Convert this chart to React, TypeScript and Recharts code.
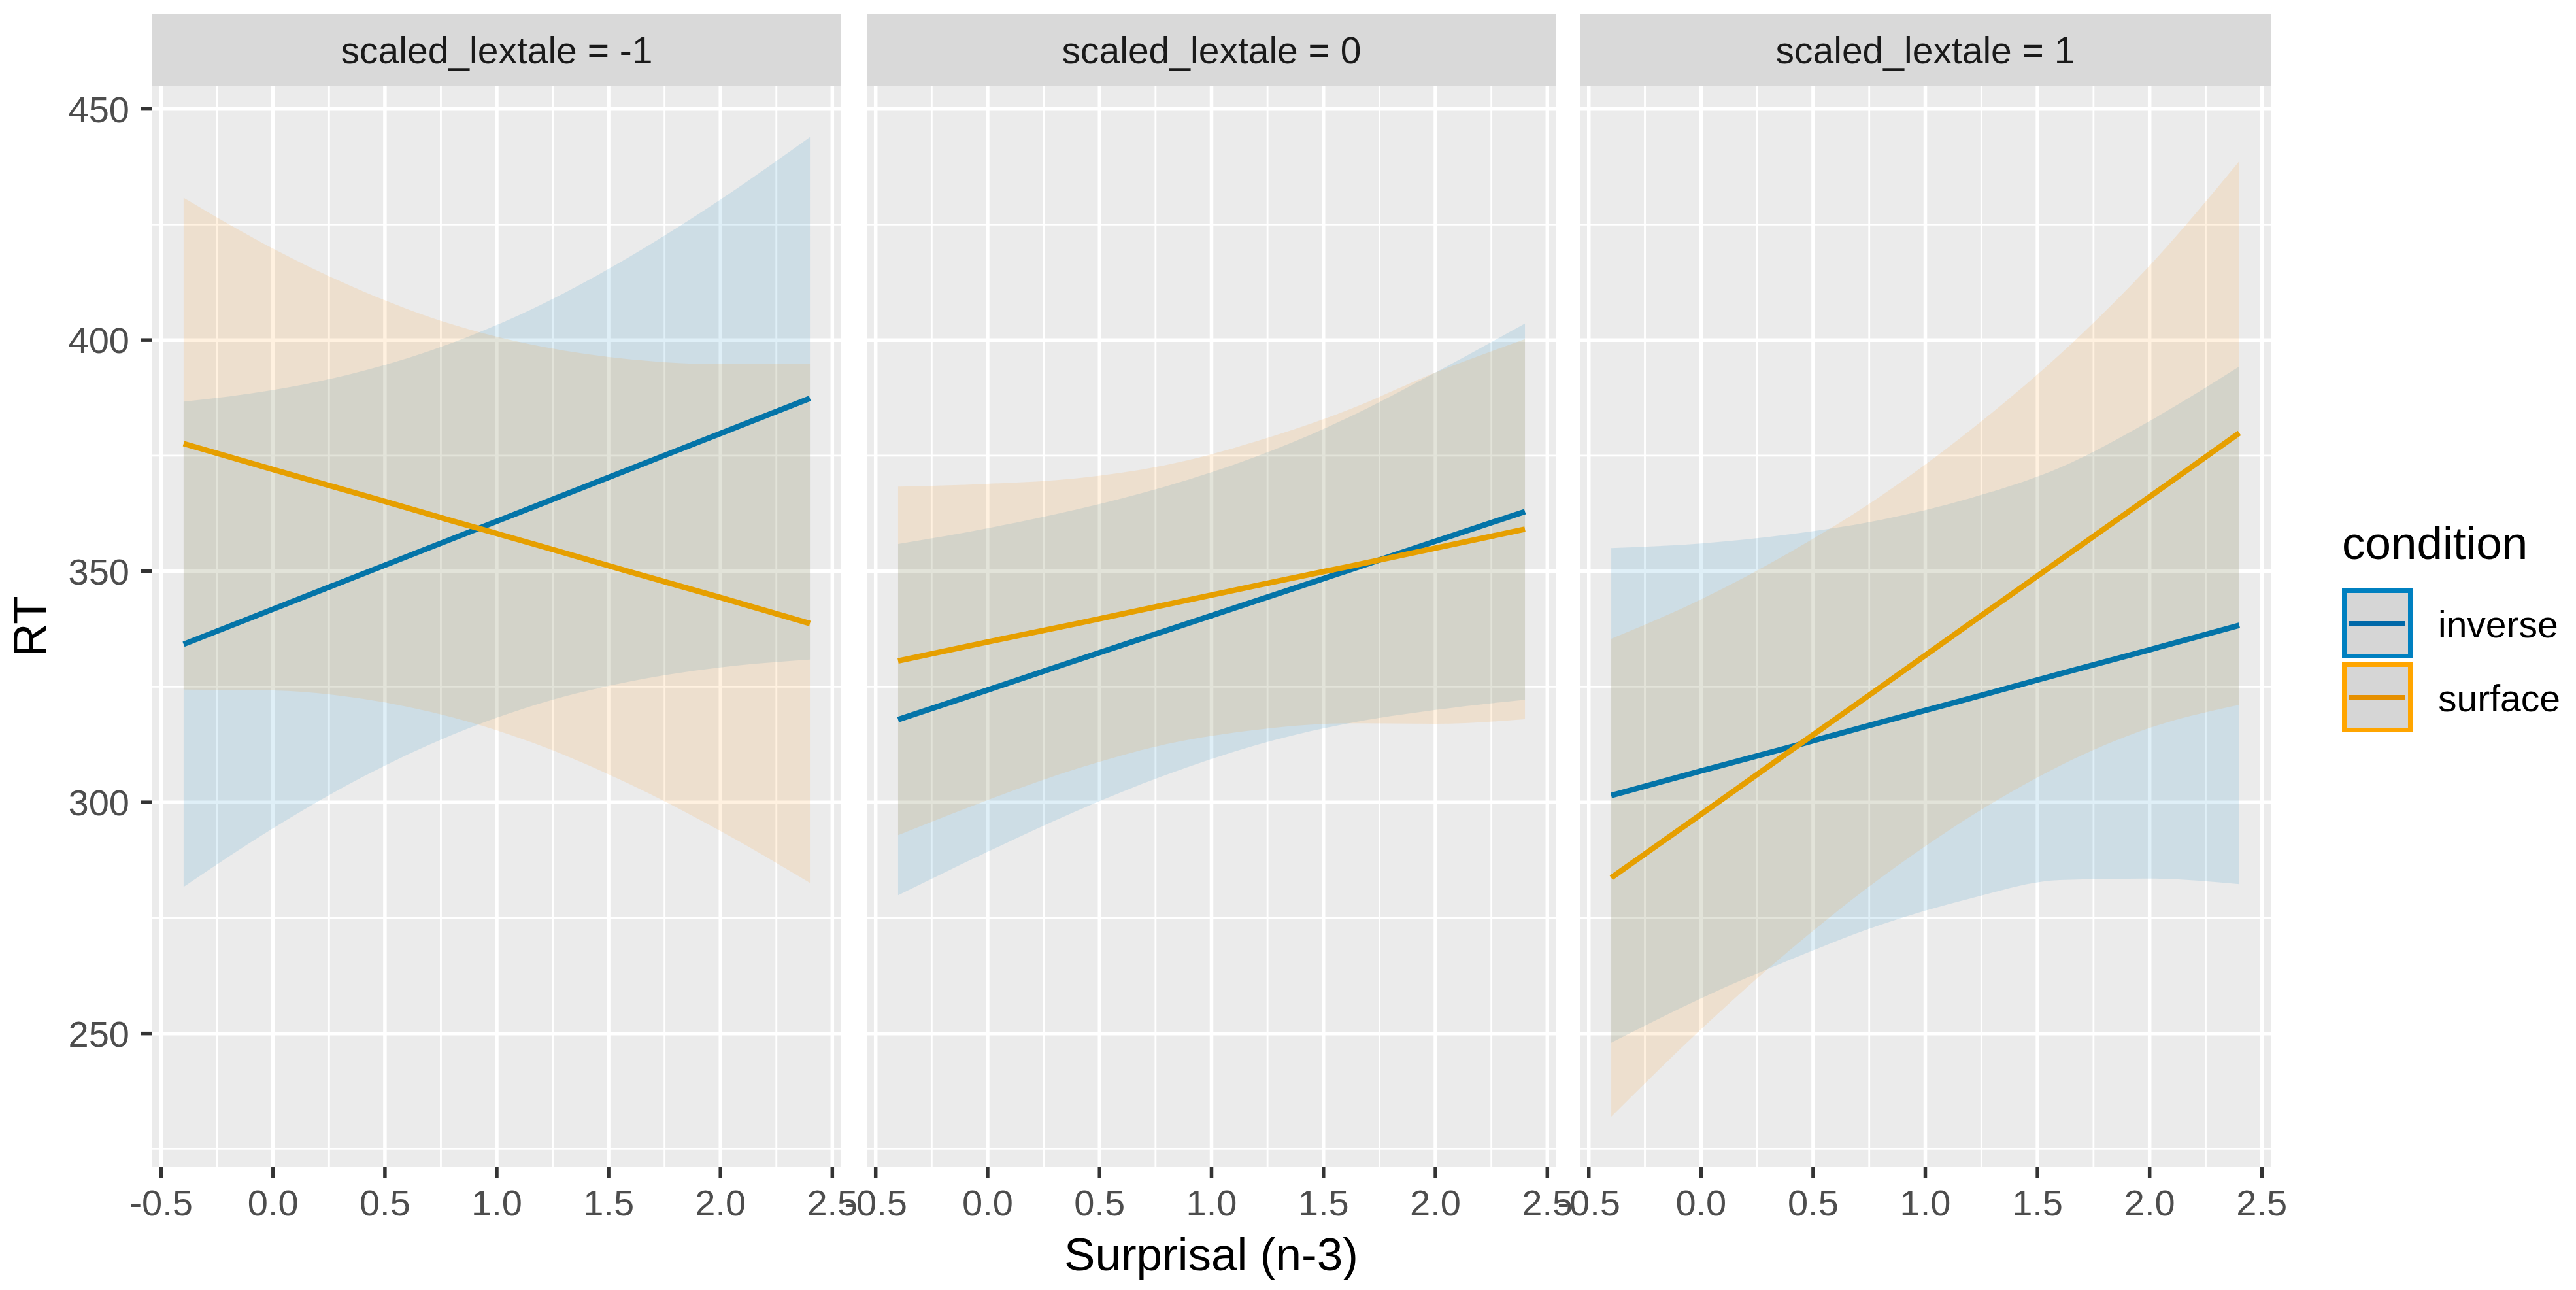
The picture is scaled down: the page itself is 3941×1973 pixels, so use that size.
import React from 'react';
import { ComposedChart, Area, Line, XAxis, YAxis, CartesianGrid } from 'recharts';

// ---------- data ----------
const X_VALUES = [-0.4, 0, 0.4, 0.8, 1.2, 1.6, 2.0, 2.4];
const X_TICKS = [-0.5, 0, 0.5, 1, 1.5, 2, 2.5];
const X_MINOR = [-0.25, 0.25, 0.75, 1.25, 1.75, 2.25];
const Y_TICKS = [250, 300, 350, 400, 450];
const Y_MINOR = [225, 275, 325, 375, 425];
const PANEL_LABELS = ['scaled_lextale = -1', 'scaled_lextale = 0', 'scaled_lextale = 1'];
const CONDITIONS = ['inverse', 'surface'];
const X_TITLE = 'Surprisal (n-3)';
const Y_TITLE = 'RT';
const LEGEND_TITLE = 'condition';

// panel 1: scaled_lextale = -1
const P1_INVERSE_FIT = [334.2, 341.8, 349.4, 357.0, 364.6, 372.2, 379.8, 387.4];
const P1_INVERSE_LOW = [281.7, 294.4, 305.5, 314.6, 321.5, 326.2, 329.2, 330.9];
const P1_INVERSE_HIGH = [386.7, 389.2, 393.3, 399.4, 407.7, 418.2, 430.4, 443.9];
const P1_SURFACE_FIT = [377.6, 372.0, 366.5, 360.9, 355.4, 349.8, 344.3, 338.7];
const P1_SURFACE_LOW = [324.4, 324.2, 322.4, 318.4, 312.2, 303.8, 293.8, 282.6];
const P1_SURFACE_HIGH = [430.8, 419.8, 410.6, 403.4, 398.6, 395.8, 394.8, 394.8];

// panel 2: scaled_lextale = 0
const P2_INVERSE_FIT = [317.9, 324.3, 330.8, 337.2, 343.6, 350.0, 356.5, 362.9];
const P2_INVERSE_LOW = [279.9, 289.3, 298.2, 306.0, 312.4, 317.0, 320.0, 322.2];
const P2_INVERSE_HIGH = [355.9, 359.3, 363.4, 368.4, 374.8, 383.0, 393.0, 403.6];
const P2_SURFACE_FIT = [330.6, 334.7, 338.7, 342.8, 346.9, 350.9, 355.0, 359.1];
const P2_SURFACE_LOW = [292.9, 300.5, 307.3, 312.6, 315.7, 317.1, 317.0, 318.0];
const P2_SURFACE_HIGH = [368.3, 368.9, 370.1, 373.0, 378.1, 384.7, 393.0, 400.2];

// panel 3: scaled_lextale = 1
const P3_INVERSE_FIT = [301.5, 306.8, 312.0, 317.3, 322.5, 327.8, 333.0, 338.3];
const P3_INVERSE_LOW = [248.0, 257.6, 266.0, 273.5, 279.2, 283.2, 283.5, 282.3];
const P3_INVERSE_HIGH = [355.0, 356.0, 358.0, 361.1, 365.8, 372.4, 382.5, 394.3];
const P3_SURFACE_FIT = [283.7, 297.4, 311.2, 324.9, 338.7, 352.4, 366.1, 379.9];
const P3_SURFACE_LOW = [232.0, 250.9, 268.2, 283.6, 296.9, 307.9, 316.1, 321.1];
const P3_SURFACE_HIGH = [335.4, 343.9, 354.2, 366.2, 380.5, 396.9, 416.1, 438.7];

const PANEL_SERIES = [
  [P1_INVERSE_FIT, P1_INVERSE_LOW, P1_INVERSE_HIGH, P1_SURFACE_FIT, P1_SURFACE_LOW, P1_SURFACE_HIGH],
  [P2_INVERSE_FIT, P2_INVERSE_LOW, P2_INVERSE_HIGH, P2_SURFACE_FIT, P2_SURFACE_LOW, P2_SURFACE_HIGH],
  [P3_INVERSE_FIT, P3_INVERSE_LOW, P3_INVERSE_HIGH, P3_SURFACE_FIT, P3_SURFACE_LOW, P3_SURFACE_HIGH],
];

const buildRows = (s: number[][]) =>
  X_VALUES.map((x, i) => ({
    x,
    invFit: s[0][i],
    invBand: [s[1][i], s[2][i]],
    surFit: s[3][i],
    surBand: [s[4][i], s[5][i]],
  }));

// ---------- style ----------
const FONT = '"Liberation Sans", Arial, Helvetica, sans-serif';
const BLUE_LINE = '#0474A8';
const ORANGE_LINE = '#E69F00';
const BLUE_FILL = '#0080C0';
const ORANGE_FILL = '#FF8900';
const BLUE_KEY_BORDER = '#0080C0';
const ORANGE_KEY_BORDER = '#FFA500';
const X_DOMAIN: [number, number] = [-0.54, 2.54];
const Y_DOMAIN: [number, number] = [221.1, 454.9];

const PLOT_TOP = 132;
const PLOT_BOTTOM = 1785;
const PAGE_H = 1973;
const SIDE = 70;
const Y_AXIS_W = 233;
const PANELS = [
  { left: 233, width: 1054 },
  { left: 1326, width: 1055 },
  { left: 2417, width: 1057 },
];

const tickStyle = { fill: '#4D4D4D', fontSize: 56, fontFamily: FONT };
const tickLineStyle = { stroke: '#333333', strokeWidth: 5.5 };

function Panel({ idx }: { idx: number }) {
  const p = PANELS[idx];
  const first = idx === 0;
  const chartLeft = first ? 0 : p.left - SIDE;
  const width = first ? p.left + p.width + SIDE : p.width + 2 * SIDE;
  const rows = buildRows(PANEL_SERIES[idx]);
  return (
    <div style={{ position: 'absolute', left: chartLeft, top: 0, width, height: PAGE_H }}>
      <ComposedChart
        width={width}
        height={PAGE_H}
        data={rows}
        margin={{ top: PLOT_TOP, right: SIDE, bottom: 0, left: first ? 0 : SIDE }}
        style={{ overflow: 'visible' }}
      >
        <CartesianGrid
          fill="#EBEBEB"
          stroke="#FFFFFF"
          strokeWidth={2.8}
          horizontalValues={Y_MINOR}
          verticalValues={X_MINOR}
        />
        <CartesianGrid
          stroke="#FFFFFF"
          strokeWidth={5.5}
          horizontalValues={Y_TICKS}
          verticalValues={X_TICKS}
        />
        <XAxis
          dataKey="x"
          type="number"
          domain={X_DOMAIN}
          ticks={X_TICKS}
          interval={0}
          allowDataOverflow
          height={PAGE_H - PLOT_BOTTOM}
          axisLine={false}
          tickLine={tickLineStyle}
          tickSize={17}
          tickMargin={17}
          tick={tickStyle}
          tickFormatter={(v: number) => v.toFixed(1)}
        />
        <YAxis
          type="number"
          domain={Y_DOMAIN}
          ticks={Y_TICKS}
          interval={0}
          allowDataOverflow
          hide={!first}
          width={first ? Y_AXIS_W : 0}
          axisLine={false}
          tickLine={tickLineStyle}
          tickSize={17}
          tickMargin={18}
          tick={tickStyle}
        />
        <Area
          dataKey="invBand"
          type="monotone"
          stroke="none"
          fill={BLUE_FILL}
          fillOpacity={0.125}
          dot={false}
          activeDot={false}
          isAnimationActive={false}
        />
        <Area
          dataKey="surBand"
          type="monotone"
          stroke="none"
          fill={ORANGE_FILL}
          fillOpacity={0.12}
          dot={false}
          activeDot={false}
          isAnimationActive={false}
        />
        <Line
          dataKey="invFit"
          type="linear"
          stroke={BLUE_LINE}
          strokeWidth={8.5}
          dot={false}
          activeDot={false}
          isAnimationActive={false}
        />
        <Line
          dataKey="surFit"
          type="linear"
          stroke={ORANGE_LINE}
          strokeWidth={8.5}
          dot={false}
          activeDot={false}
          isAnimationActive={false}
        />
      </ComposedChart>
    </div>
  );
}

function Strip({ idx }: { idx: number }) {
  const p = PANELS[idx];
  return (
    <div
      style={{
        position: 'absolute',
        left: p.left,
        top: 22,
        width: p.width,
        height: 110,
        background: '#D9D9D9',
        color: '#1A1A1A',
        fontSize: 57,
        lineHeight: '110px',
        textAlign: 'center',
        fontFamily: FONT,
        whiteSpace: 'nowrap',
      }}
    >
      {PANEL_LABELS[idx]}
    </div>
  );
}

function Overlay() {
  const keyColors = [
    { border: BLUE_KEY_BORDER, line: '#0068A8' },
    { border: ORANGE_KEY_BORDER, line: '#E69000' },
  ];
  const keyTops = [900, 1013];
  return (
    <svg
      width={3941}
      height={PAGE_H}
      style={{ position: 'absolute', left: 0, top: 0, pointerEvents: 'none' }}
      fontFamily={FONT}
    >
      <text x={1853} y={1943} textAnchor="middle" fontSize={71} fill="#000">
        {X_TITLE}
      </text>
      <text transform="translate(70,958) rotate(-90)" textAnchor="middle" fontSize={71} fill="#000">
        {Y_TITLE}
      </text>
      <text x={3583} y={855} fontSize={71} fill="#000">
        {LEGEND_TITLE}
      </text>
      {CONDITIONS.map((c, i) => (
        <g key={c}>
          <rect
            x={3586.5}
            y={keyTops[i] + 3.5}
            width={101}
            height={100}
            fill="#D6D6D6"
            stroke={keyColors[i].border}
            strokeWidth={7}
          />
          <line
            x1={3594}
            x2={3680}
            y1={keyTops[i] + 53.5}
            y2={keyTops[i] + 53.5}
            stroke={keyColors[i].line}
            strokeWidth={7}
          />
          <text x={3730} y={keyTops[i] + 75} fontSize={57} fill="#000">
            {c}
          </text>
        </g>
      ))}
    </svg>
  );
}

export default function App() {
  return (
    <div
      style={{
        position: 'absolute',
        left: 0,
        top: 0,
        width: 3941,
        height: PAGE_H,
        background: '#FFFFFF',
        fontFamily: FONT,
        overflow: 'hidden',
      }}
    >
      {PANELS.map((_, i) => (
        <Strip key={'s' + i} idx={i} />
      ))}
      {PANELS.map((_, i) => (
        <Panel key={'p' + i} idx={i} />
      ))}
      <Overlay />
    </div>
  );
}
